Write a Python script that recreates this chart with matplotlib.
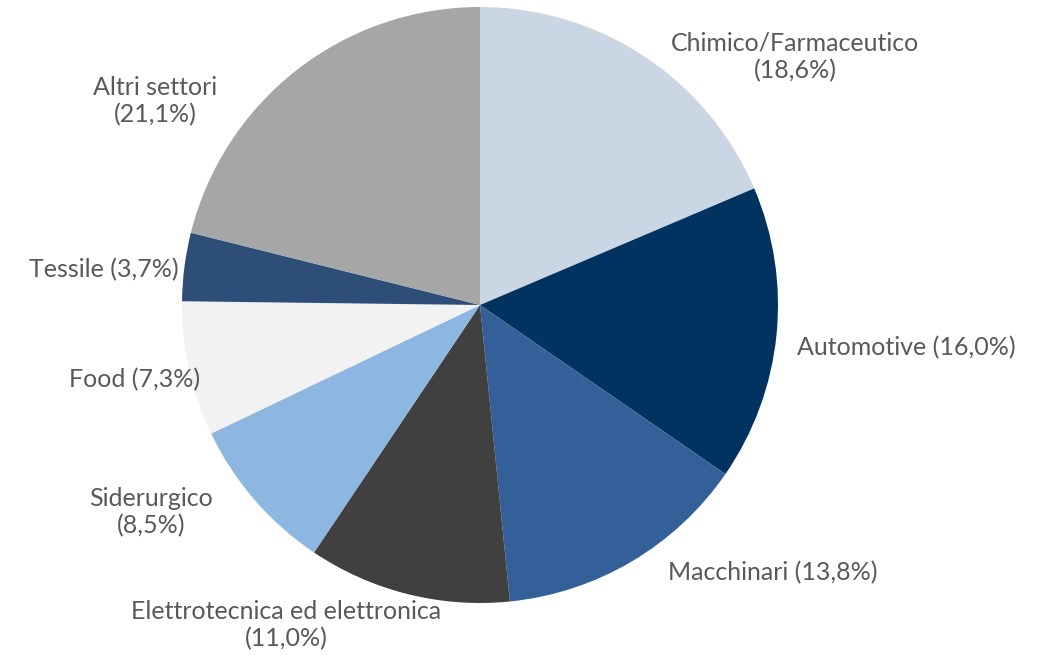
import matplotlib
matplotlib.use("Agg")
import matplotlib.pyplot as plt

# dati
settori = ["Chimico/Farmaceutico", "Automotive", "Macchinari",
           "Elettrotecnica ed elettronica", "Siderurgico", "Food",
           "Tessile", "Altri settori"]
quote = [18.6, 16.0, 13.8, 11.0, 8.5, 7.3, 3.7, 21.1]
colori = ["#CAD6E4", "#003360", "#34609A", "#404040",
          "#8DB7E0", "#F2F2F2", "#2C4E79", "#A6A6A6"]

# testo delle etichette (a capo dove serve)
a_capo = [True, False, False, True, True, False, False, True]

# posizione etichette (x, y, allineamento) in unita' di raggio
pos_etichette = [(1.057, 0.832, "center"), (1.064, -0.144, "left"),
                 (0.631, -0.899, "left"), (-0.651, -1.074, "center"),
                 (-1.104, -0.695, "center"), (-0.940, -0.252, "right"),
                 (-1.013, 0.117, "right"), (-1.091, 0.685, "center")]

W, H = 1043, 660
cx, cy, r = 480, 305, 298

fig = plt.figure(figsize=(W / 100, H / 100), dpi=100)
ax = fig.add_axes([0, 0, 1, 1])
ax.pie(quote, colors=colori, startangle=90, counterclock=False,
       radius=1.0, wedgeprops={"linewidth": 0})
ax.set_xlim(-cx / r, (W - cx) / r)
ax.set_ylim(-(H - cy) / r, cy / r)
ax.set_aspect("equal")
ax.axis("off")

for nome, q, ac, (x, y, ha) in zip(settori, quote, a_capo, pos_etichette):
    perc = f"({q:.1f}%)".replace(".", ",")
    testo = f"{nome}\n{perc}" if ac else f"{nome} {perc}"
    ax.text(x, y, testo, ha=ha, va="center", fontsize=18,
            family="Lato", color="#595959", multialignment="center",
            linespacing=1.2)

fig.savefig("out.png", dpi=100)
